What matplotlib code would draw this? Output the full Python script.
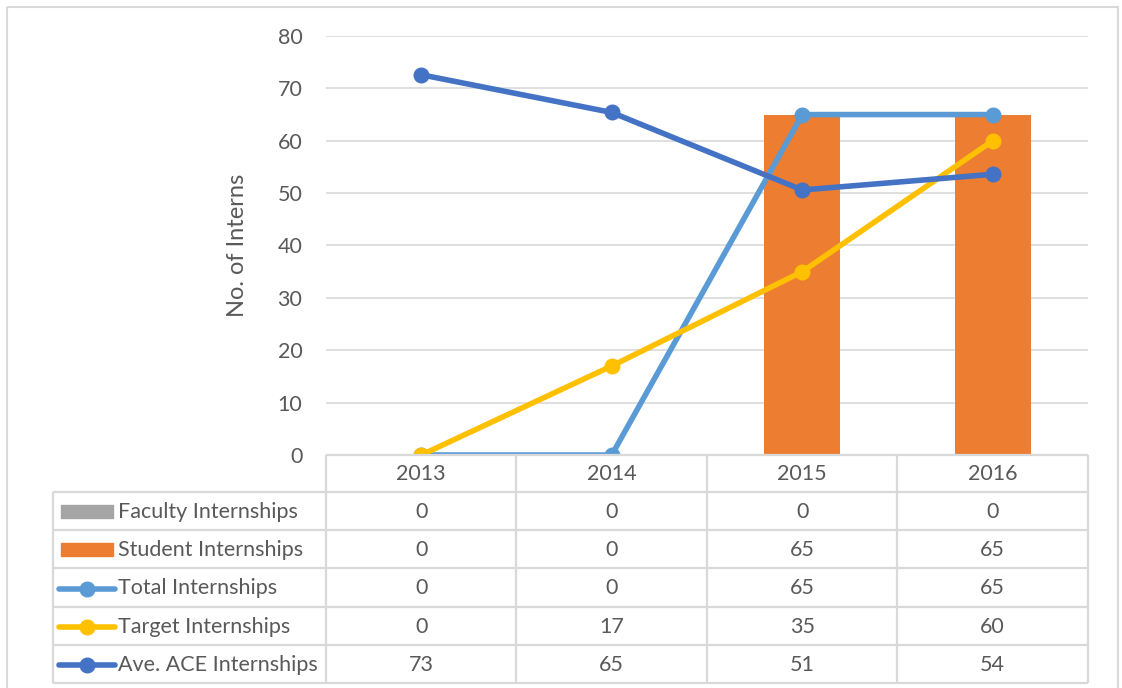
import matplotlib
matplotlib.use('Agg')
import matplotlib.pyplot as plt
from matplotlib.patches import Rectangle

plt.rcParams['font.family'] = ['Lato', 'DejaVu Sans']

years = ['2013', '2014', '2015', '2016']
faculty = [0, 0, 0, 0]
student = [0, 0, 65, 65]
total = [0, 0, 65, 65]
target = [0, 17, 35, 60]
ave_ace = [72.6, 65.4, 50.6, 53.6]
series_names = ['Faculty Internships', 'Student Internships', 'Total Internships',
                'Target Internships', 'Ave. ACE Internships']
yticks = [0, 10, 20, 30, 40, 50, 60, 70, 80]

C_FAC = '#A5A5A5'
C_STU = '#ED7D31'
C_TOT = '#5B9BD5'
C_TGT = '#FFC000'
C_AVE = '#4472C4'
TXT = '#595959'
GRID = '#D9D9D9'
FS = 15.5

W, H = 1122, 688
fig = plt.figure(figsize=(W / 100, H / 100), dpi=100)
L, R, T, B = 326, 1088, 36, 455
ax = fig.add_axes([L / W, 1 - B / H, (R - L) / W, (B - T) / H])
x = list(range(len(years)))
ax.bar(x, faculty, width=0.4, color=C_FAC, zorder=2)
ax.bar(x, student, bottom=faculty, width=0.4, color=C_STU, zorder=2)
lw, ms = 4.0, 10.5
ax.plot(x, total, color=C_TOT, lw=lw, marker='o', ms=ms, zorder=3, solid_capstyle='round')
ax.plot(x, target, color=C_TGT, lw=lw, marker='o', ms=ms, zorder=4, solid_capstyle='round')
ax.plot(x, ave_ace, color=C_AVE, lw=lw, marker='o', ms=ms, zorder=5, solid_capstyle='round')
ax.set_xlim(-0.5, len(years) - 0.5)
ax.set_ylim(0, 80)
ax.set_yticks(yticks)
ax.set_xticks([])
ax.yaxis.grid(True, color=GRID, lw=1.2, zorder=0)
ax.set_axisbelow(True)
for s in ax.spines.values():
    s.set_visible(False)
ax.tick_params(axis='y', length=0, pad=17, labelsize=FS, labelcolor=TXT)
ax.set_ylabel('No. of Interns', fontsize=17, color=TXT, labelpad=21)
ax.patch.set_alpha(0)

# overlay in pixel coordinates for the data table
ov = fig.add_axes([0, 0, 1, 1])
ov.set_xlim(0, W)
ov.set_ylim(H, 0)
ov.axis('off')
ov.patch.set_alpha(0)

ov.add_patch(Rectangle((7, 7), 1111, 700, fill=False, ec=GRID, lw=1.5))

col_edges = [fig.transFigure.inverted().transform(ax.transData.transform((i - 0.5, 0)))[0] * W
             for i in range(len(years) + 1)]
col_centers = [fig.transFigure.inverted().transform(ax.transData.transform((i, 0)))[0] * W
               for i in range(len(years))]
row_edges = [455, 492, 530, 568, 607, 645, 683]
tl = 53
lc = dict(color=GRID, lw=1.6, solid_capstyle='butt')
ov.plot([col_edges[0], col_edges[-1]], [row_edges[0]] * 2, **lc)
for y in row_edges[1:]:
    ov.plot([tl, col_edges[-1]], [y, y], **lc)
for xe in col_edges:
    ov.plot([xe, xe], [row_edges[0], row_edges[-1]], **lc)
ov.plot([tl, tl], [row_edges[1], row_edges[-1]], **lc)

for xc, yr in zip(col_centers, years):
    ov.text(xc, (row_edges[0] + row_edges[1]) / 2 + 1, yr, ha='center', va='center', fontsize=FS, color=TXT)

table_vals = [faculty, student, total, target, ave_ace]
colors = [C_FAC, C_STU, C_TOT, C_TGT, C_AVE]
for r, (name, vals, c) in enumerate(zip(series_names, table_vals, colors)):
    yc = (row_edges[r + 1] + row_edges[r + 2]) / 2 + 1
    if r < 2:
        ov.add_patch(Rectangle((61, yc - 7), 52, 13, color=c))
    else:
        ov.plot([59, 115], [yc, yc], color=c, lw=4.0, solid_capstyle='round')
        ov.plot([87], [yc], marker='o', ms=10.5, color=c)
    ov.text(118, yc, name, ha='left', va='center', fontsize=FS, color=TXT)
    for xc, v in zip(col_centers, vals):
        ov.text(xc, yc, f'{v:.0f}', ha='center', va='center', fontsize=FS, color=TXT)

fig.savefig('out.png', dpi=100, facecolor='white')
